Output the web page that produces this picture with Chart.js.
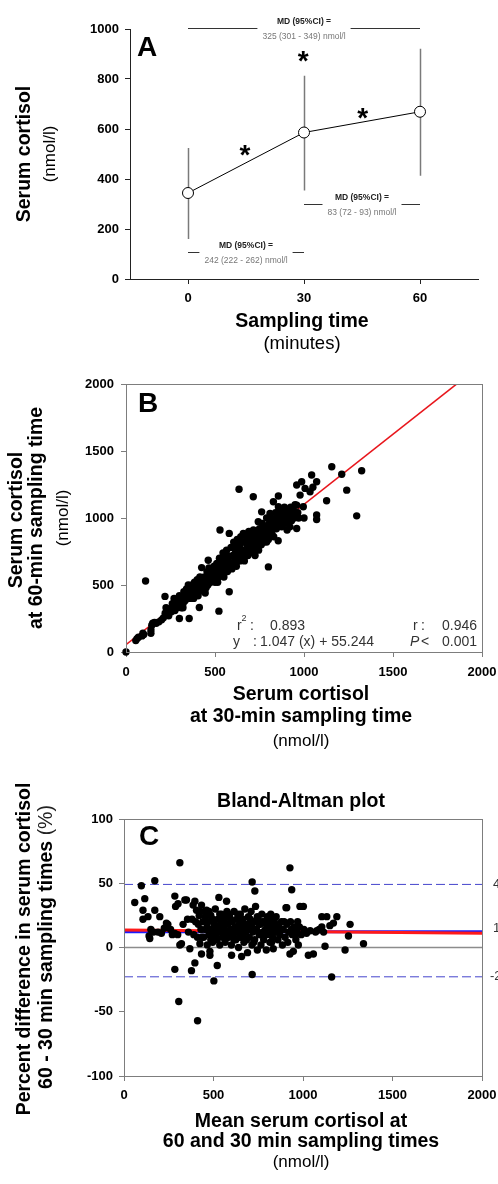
<!DOCTYPE html>
<html>
<head>
<meta charset="utf-8">
<script src="https://cdn.jsdelivr.net/npm/chart.js@4.4.1/dist/chart.umd.min.js"></script>
<style>
  html, body { margin: 0; padding: 0; background: #fff; }
  body { width: 498px; height: 1184px; position: relative; overflow: hidden; }
  canvas { position: absolute; left: 0; }
</style>
</head>
<body>
<canvas id="chartA" width="498" height="360" style="top:0px"></canvas>
<canvas id="chartB" width="498" height="400" style="top:360px"></canvas>
<canvas id="chartC" width="498" height="424" style="top:760px"></canvas>
<script>
// ---- panel A: cortisol by sampling time ----
const sampleTimes = [0, 30, 60];
const meanCortisol = [344, 586, 669];
const lowerBar = [160, 354, 413];
const upperBar = [524, 813, 921];
const timeTicks = [0, 30, 60];
const cortisolTicks = [0, 200, 400, 600, 800, 1000];
const starMarks = [[14.7, 524], [29.8, 897], [45.2, 670]];
const mdFrom = [0, 30, 0];
const mdTo = [60, 60, 30];
const mdLevel = [1005, 301, 109];
const mdText = ['325 (301 - 349) nmol/l', '83 (72 - 93) nmol/l', '242 (222 - 262) nmol/l'];

// ---- panel B: 30 min vs 60 min ----
const pairs30v60 = [
  [0,0],[55,85],[62,100],[70,110],[90,120],[95,140],[100,130],[110,530],[140,140],[140,165],[145,200],[150,215],
  [160,220],[170,215],[185,225],[200,240],[210,255],[219,415],[220,290],[225,330],[235,300],[240,270],[245,320],
  [255,300],[260,360],[265,340],[270,400],[275,310],[280,360],[285,330],[290,380],[295,350],[300,250],[300,420],
  [305,370],[310,330],[315,400],[320,360],[325,450],[330,420],[335,390],[340,470],[345,440],[350,500],[355,250],
  [355,410],[360,460],[365,430],[370,500],[375,470],[380,400],[385,520],[390,450],[395,490],[400,540],[405,420],
  [410,500],[412,332],[415,560],[420,470],[425,630],[430,520],[435,490],[440,560],[445,440],[450,540],[455,600],
  [460,500],[462,685],[466,628],[470,560],[475,520],[480,610],[485,580],[490,540],[495,640],
  [500,600],[505,560],[510,660],[515,520],[520,620],[522,305],[525,700],[528,910],[530,580],[535,660],[540,620],
  [545,740],[550,560],[555,680],[560,640],[565,760],[570,600],[575,700],[580,450],[580,885],[585,660],[590,780],
  [595,620],[600,720],[605,820],[610,680],[615,760],[620,640],[625,840],[630,720],[635,1215],[635,800],[640,680],
  [645,860],[650,760],[655,720],[659,885],[660,820],[665,680],[670,880],[675,760],[680,840],[685,720],[690,900],
  [695,800],[700,740],[705,860],[710,780],[715,1159],[716,910],[720,840],[725,720],[730,900],[735,800],[740,860],
  [743,972],[745,760],[750,920],
  [755,840],[760,800],[762,1046],[765,960],[770,880],[775,820],[780,940],[785,860],[790,1000],[795,900],[800,635],
  [800,840],[805,960],[809,1034],[810,880],[815,1000],[818,984],[820,920],[828,1121],[830,860],[835,980],[840,1040],
  [845,920],[850,1000],[855,830],[856,1084],[856,1164],[860,960],[865,1060],[870,1000],[875,934],[880,1040],
  [885,980],[890,1080],[895,1020],[900,960],[903,1022],[905,910],[910,1060],[915,1000],[921,934],[925,1080],
  [930,1020],[940,1060],[945,1000],[950,1100],[959,922],[959,1096],[959,1246],[965,1040],[970,1000],[978,1171],
  [987,1271],[996,1084],[1000,1000],[1006,1221],[1034,1196],[1043,1321],[1050,1230],[1071,1271],[1071,1022],
  [1071,989],[1127,1129],[1156,1383],[1212,1326],[1240,1208],[1296,1016],[1324,1353],
  [320,330],[330,380],[350,420],[360,400],[370,440],[380,460],[390,420],[400,480],[410,450],[420,520],[430,460],
  [440,500],[450,480],[460,560],[470,520],[480,560],[490,600],[500,520],[510,580],[520,560],[530,640],[540,700],
  [550,600],[560,680],[570,720],[580,620],[590,660],[600,640],[610,720],[620,780],[630,680],[640,780],[650,820],
  [660,720],[670,760],[680,800],[690,760],[700,820],[710,880],[720,800],[730,760],[740,820],[750,880],[760,860],
  [770,920],[780,880],[790,820],[800,900],[810,940],[820,880],[830,940],[840,980],[850,940],[860,1020],[870,960],
  [880,1000],[890,960],[900,1040],[910,980],[920,1060],[930,980],[940,1020]
];
const fitSlope = 1.047;
const fitIntercept = 55.244;
const fitRange = [0, 1857];
const scatterTicks = [0, 500, 1000, 1500, 2000];

// ---- panel C: Bland-Altman ----
const baPoints = [
  [60,35],[97,48],[106,29],[106,22],[116,38],[134,24],[140,9],[144,7],[150,14],[165,12],[172,52],[172,29],[190,12],
  [200,24],[209,11],[225,15],[237,19],[245,18],[260,14],[270,10],[284,40],[284,11],[284,-17],[288,32],[300,10],
  [302,34],[306,-42],[312,66],[312,2],[321,3],[330,18],[340,37],[349,37],[355,22],[360,12],[368,-1],[377,-18],
  [386,33],[396,36],[396,-12],[400,20],[405,29],[410,8],[411,-57],[420,25],[424,3],[430,14],[433,33],[433,-5],
  [440,20],[445,8],[450,28],[455,14],[461,29],[465,2],[470,20],[475,10],[480,-3],[480,-6],[485,25],[490,14],
  [495,4],[500,20],[502,-26],[505,10],[510,30],[515,16],[520,6],[521,-14],[525,22],[530,39],[530,12],[535,2],
  [540,18],[545,26],[550,8],[555,15],[560,22],[565,4],[570,12],[573,36],[575,28],[580,18],[585,8],[590,24],
  [595,14],[600,2],[601,-6],[605,20],[610,10],[615,28],[620,16],[625,6],[630,22],[635,12],[640,0],[645,18],
  [650,26],[655,8],[657,-7],[660,14],[665,22],[670,4],[675,30],[680,12],[685,18],[690,-4],[695,24],[700,8],
  [705,16],[710,28],[715,2],[716,51],[716,-21],[720,12],[725,20],[730,6],[731,44],[735,32],[740,14],[745,-2],
  [750,22],[755,10],[760,18],[765,2],[770,26],[775,12],[780,6],[785,20],[790,14],[795,-2],[800,24],[805,10],
  [810,18],[815,4],[820,26],[825,14],[830,8],[834,-1],[840,20],[845,12],[850,24],[860,6],[865,16],[870,10],
  [880,20],[885,2],[890,14],[900,8],[905,31],[909,31],[910,18],[915,4],[920,12],[927,62],[927,-5],[930,20],
  [937,45],[940,10],[946,-3],[950,16],[960,6],[965,12],[974,2],[980,16],[983,32],[990,10],[1002,32],[1005,14],
  [1020,11],[1030,-6],[1040,13],[1058,-5],[1070,12],[1077,13],[1090,14],[1105,24],[1105,16],[1115,12],[1123,1],
  [1133,24],[1150,17],[1160,-23],[1170,19],[1189,24],[1235,-2],[1254,9],[1263,18],[1338,3],
  [455,24],[465,16],[475,28],[485,6],[495,22],[505,18],[515,8],[525,14],[535,26],[545,12],[555,24],[565,18],
  [575,8],[585,26],[595,22],[605,12],[615,6],[625,16],[635,26],[645,8],[655,20],[665,10],[675,18],[685,6],
  [695,14],[705,22],[715,18],[725,4],[735,14],[745,24],[755,18],[765,10],[775,20],[785,10],[795,18],[805,16],
  [815,22],[825,4],[835,12],[845,18],[855,16],[875,14],[895,20],[935,14],[955,10],[970,20],[380,22],[390,10],
  [415,18],[425,28],[435,8]
];
const baMeanBias = 12.2;
const baUpper = 49.1;
const baLower = -22.8;
const baTrend = [[0, 13.6], [2000, 11]];
const baSideLabels = ['49.1', '12.2', '-22.8'];
const pctTicks = [-100, -50, 0, 50, 100];

const FONT = '"Liberation Sans", Arial, sans-serif';
const bold = s => 'bold ' + s + 'px ' + FONT;
const norm = s => s + 'px ' + FONT;

// draw a run of text pieces centred on (cx, cy), optionally rotated
function drawRun(ctx, parts, cx, cy, rotate) {
  ctx.save();
  ctx.translate(cx, cy);
  if (rotate) ctx.rotate(-Math.PI / 2);
  ctx.textBaseline = 'middle';
  ctx.textAlign = 'left';
  let total = 0;
  parts.forEach(p => { ctx.font = p[1]; total += ctx.measureText(p[0]).width; });
  let x = -total / 2;
  parts.forEach(p => {
    ctx.font = p[1];
    ctx.fillStyle = p[2] || '#000';
    ctx.fillText(p[0], x, 0);
    x += ctx.measureText(p[0]).width;
  });
  ctx.restore();
}

// fixed-size axis: label overflow must not shrink the plot area
function linAxis(min, max, ticks, padding, color, size) {
  return {
    type: 'linear', min, max,
    afterBuildTicks: s => { s.ticks = ticks.map(v => ({ value: v })); },
    afterFit: s => {
      if (s.isHorizontal()) s.height = size; else s.width = size;
      s.paddingLeft = s.paddingRight = s.paddingTop = s.paddingBottom = 0;
    },
    grid: { drawOnChartArea: false, color, tickLength: 5 },
    border: { color, width: 1 },
    ticks: {
      color: '#000', padding, autoSkip: false, maxRotation: 0,
      font: { family: FONT, size: 13, weight: 'bold' },
      callback: v => String(v)
    }
  };
}

const baseOpts = {
  responsive: false,
  animation: false,
  devicePixelRatio: 1,
  events: [],
  plugins: { legend: { display: false }, tooltip: { enabled: false } }
};

const frame = {
  id: 'frame',
  afterDraw(chart) {
    const { ctx, chartArea: a } = chart;
    ctx.save();
    ctx.strokeStyle = '#7d7d7d';
    ctx.lineWidth = 1;
    ctx.strokeRect(Math.round(a.left) + 0.5, Math.round(a.top) + 0.5,
      Math.round(a.right - a.left), Math.round(a.bottom - a.top));
    ctx.restore();
  }
};

// ---------- A ----------
new Chart(document.getElementById('chartA'), {
  type: 'scatter',
  data: {
    datasets: [{
      data: sampleTimes.map((t, i) => ({ x: t, y: meanCortisol[i] })),
      showLine: true,
      borderColor: '#000',
      borderWidth: 1,
      pointRadius: 5.5,
      pointBackgroundColor: '#fff',
      pointBorderColor: '#000',
      pointBorderWidth: 1,
      clip: false
    }]
  },
  options: Object.assign({}, baseOpts, {
    layout: { padding: { top: 29, right: 20, bottom: 0, left: 0 } },
    scales: {
      x: linAxis(-15, 75, timeTicks, 7, '#222', 81),
      y: linAxis(0, 1000, cortisolTicks, 6, '#222', 130)
    }
  }),
  plugins: [{
    id: 'errorBars',
    beforeDatasetsDraw(chart) {
      const { ctx, scales: { x, y } } = chart;
      ctx.save();
      ctx.strokeStyle = '#7a7a7a';
      ctx.lineWidth = 1.5;
      sampleTimes.forEach((t, i) => {
        const px = Math.round(x.getPixelForValue(t)) + 0.5;
        ctx.beginPath();
        ctx.moveTo(px, y.getPixelForValue(lowerBar[i]));
        ctx.lineTo(px, y.getPixelForValue(upperBar[i]));
        ctx.stroke();
      });
      ctx.restore();
    }
  }, {
    id: 'notesA',
    afterDraw(chart) {
      const { ctx, scales: { x, y } } = chart;
      ctx.save();
      mdText.forEach((txt, i) => {
        const x1 = x.getPixelForValue(mdFrom[i]);
        const x2 = x.getPixelForValue(mdTo[i]);
        const py = Math.round(y.getPixelForValue(mdLevel[i])) + 0.5;
        const cx = (x1 + x2) / 2;
        ctx.font = norm(8.5);
        const gap = ctx.measureText(txt).width / 2 + 5;
        ctx.strokeStyle = '#333';
        ctx.lineWidth = 1;
        ctx.beginPath();
        ctx.moveTo(x1, py); ctx.lineTo(cx - gap, py);
        ctx.moveTo(cx + gap, py); ctx.lineTo(x2, py);
        ctx.stroke();
        drawRun(ctx, [['MD (95%CI) =', bold(8.5), '#222']], cx, py - 7);
        drawRun(ctx, [[txt, norm(8.5), '#777']], cx, py + 8);
      });
      ctx.font = bold(28);
      ctx.fillStyle = '#000';
      ctx.textAlign = 'center';
      ctx.textBaseline = 'alphabetic';
      starMarks.forEach(m => {
        ctx.fillText('*', x.getPixelForValue(m[0]), y.getPixelForValue(m[1]) + 15.5);
      });
      ctx.textAlign = 'left';
      ctx.textBaseline = 'middle';
      ctx.font = bold(28);
      ctx.fillText('A', 137, 48);
      ctx.restore();
      drawRun(ctx, [['Serum cortisol', bold(19.5)]], 25, 154, true);
      drawRun(ctx, [['(nmol/l)', norm(17)]], 50, 154, true);
      drawRun(ctx, [['Sampling time', bold(19.5)]], 302, 322);
      drawRun(ctx, [['(minutes)', norm(18.5)]], 302, 344);
    }
  }]
});

// ---------- B ----------
new Chart(document.getElementById('chartB'), {
  type: 'scatter',
  data: {
    datasets: [{
      data: pairs30v60.map(p => ({ x: p[0], y: p[1] })),
      pointRadius: 3.7,
      pointBackgroundColor: '#000',
      pointBorderWidth: 0,
      clip: false,
      order: 0
    }, {
      data: fitRange.map(v => ({ x: v, y: fitSlope * v + fitIntercept })),
      showLine: true,
      borderColor: '#e8161c',
      borderWidth: 1.5,
      pointRadius: 0,
      order: 1
    }]
  },
  options: Object.assign({}, baseOpts, {
    layout: { padding: { top: 24, right: 16, bottom: 0, left: 0 } },
    scales: {
      x: linAxis(0, 2000, scatterTicks, 8, '#7d7d7d', 108),
      y: linAxis(0, 2000, scatterTicks, 7, '#7d7d7d', 126)
    }
  }),
  plugins: [frame, {
    id: 'notesB',
    afterDraw(chart) {
      const { ctx } = chart;
      ctx.save();
      ctx.fillStyle = '#000';
      ctx.textBaseline = 'middle';
      ctx.textAlign = 'left';
      ctx.font = bold(28);
      ctx.fillText('B', 138, 44);
      ctx.fillStyle = '#333';
      ctx.font = norm(14);
      ctx.fillText('r', 237, 266);
      ctx.font = norm(9);
      ctx.fillText('2', 241.5, 259);
      ctx.font = norm(14);
      ctx.fillText(':', 250, 266);
      ctx.fillText('0.893', 270, 266);
      ctx.fillText('y', 233, 282);
      ctx.fillText(':', 253, 282);
      ctx.fillText('1.047 (x) + 55.244', 260, 282);
      ctx.fillText('r', 413, 266);
      ctx.fillText(':', 421, 266);
      ctx.font = 'italic ' + norm(14);
      ctx.fillText('P', 410, 282);
      ctx.font = norm(14);
      ctx.fillText('<', 421, 282);
      ctx.textAlign = 'right';
      ctx.fillText('0.946', 477, 266);
      ctx.fillText('0.001', 477, 282);
      ctx.restore();
      drawRun(ctx, [['Serum cortisol', bold(19.5)]], 17, 160, true);
      drawRun(ctx, [['at 60-min sampling time', bold(19.5)]], 37, 158, true);
      drawRun(ctx, [['(nmol/l)', norm(17)]], 63, 158, true);
      drawRun(ctx, [['Serum cortisol', bold(19.5)]], 301, 335);
      drawRun(ctx, [['at 30-min sampling time', bold(19.5)]], 301, 357);
      drawRun(ctx, [['(nmol/l)', norm(17)]], 301, 381);
    }
  }]
});

// ---------- C ----------
const hLine = (v, color, width, dash) => ({
  data: [{ x: 0, y: v }, { x: 2000, y: v }],
  showLine: true, borderColor: color, borderWidth: width,
  borderDash: dash || [], pointRadius: 0, order: 2
});

new Chart(document.getElementById('chartC'), {
  type: 'scatter',
  data: {
    datasets: [
      {
        data: baPoints.map(p => ({ x: p[0], y: p[1] })),
        pointRadius: 3.7,
        pointBackgroundColor: '#000',
        pointBorderWidth: 0,
        clip: false,
        order: 0
      },
      {
        data: baTrend.map(p => ({ x: p[0], y: p[1] })),
        showLine: true, borderColor: '#ff1a1a', borderWidth: 3, pointRadius: 0, order: 1
      },
      Object.assign(hLine(baMeanBias, '#1a1aff', 3), { order: 1 }),
      hLine(0, '#8c8c8c', 1.5),
      hLine(baUpper, '#4545cc', 1, [9, 4]),
      hLine(baLower, '#4545cc', 1, [9, 4])
    ]
  },
  options: Object.assign({}, baseOpts, {
    layout: { padding: { top: 59, right: 16, bottom: 0, left: 0 } },
    scales: {
      x: linAxis(0, 2000, scatterTicks, 7, '#7d7d7d', 108),
      y: linAxis(-100, 100, pctTicks, 6, '#7d7d7d', 124)
    }
  }),
  plugins: [frame, {
    id: 'notesC',
    afterDraw(chart) {
      const { ctx, chartArea: a, scales: { y } } = chart;
      ctx.save();
      ctx.fillStyle = '#000';
      ctx.textBaseline = 'middle';
      ctx.textAlign = 'left';
      ctx.font = bold(28);
      ctx.fillText('C', 139, 77);
      ctx.fillStyle = '#333';
      ctx.font = norm(13);
      [baUpper, baMeanBias, baLower].forEach((v, i) => {
        ctx.fillText(baSideLabels[i], a.right + (v < 0 ? 8 : 11), y.getPixelForValue(v) - (i === 1 ? 3 : 0));
      });
      ctx.restore();
      drawRun(ctx, [['Bland-Altman plot', bold(19.5)]], 301, 42);
      drawRun(ctx, [['Percent difference in serum cortisol', bold(19.5)]], 25, 189, true);
      drawRun(ctx, [['60 - 30 min sampling times ', bold(19.5)], ['(%)', norm(19.5), '#222']], 47, 187, true);
      drawRun(ctx, [['Mean serum cortisol at', bold(19.5)]], 301, 362);
      drawRun(ctx, [['60 and 30 min sampling times', bold(19.5)]], 301, 382);
      drawRun(ctx, [['(nmol/l)', norm(17)]], 301, 402);
    }
  }]
});
</script>
</body>
</html>
